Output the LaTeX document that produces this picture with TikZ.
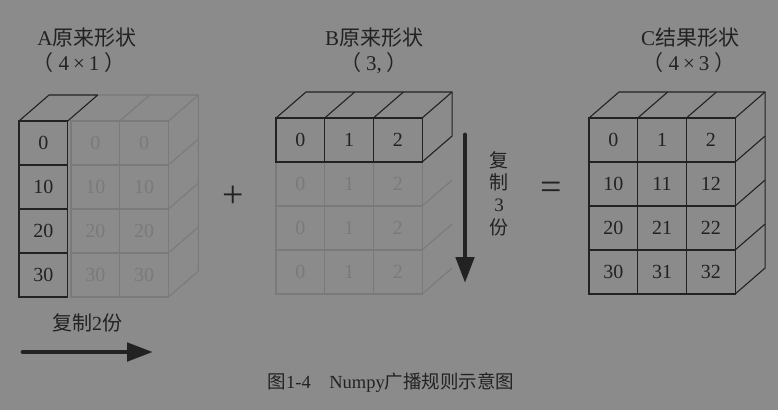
\documentclass[tikz,border=0pt]{standalone}
\usepackage{fontspec}
\setmainfont{Liberation Serif}
\newfontfamily\cjk{Noto Sans CJK SC}
\usetikzlibrary{arrows.meta}
\definecolor{bg}{HTML}{8B8B8B}
\definecolor{ink}{HTML}{222222}
\definecolor{faint}{HTML}{7A7A7A}
\newcommand{\cw}{48.7}
\newcommand{\ch}{44}
\tikzstyle{cell}=[draw=ink, line width=1.1pt, minimum width=\cw pt, minimum height=\ch pt,
                  inner sep=0, outer sep=0, text=ink, font=\fontsize{20}{20}\selectfont]
\tikzstyle{ghost}=[cell, draw=faint, text=faint]
\tikzstyle{edge}=[draw=ink, line width=1.1pt, line join=round]
\tikzstyle{ghostedge}=[edge, draw=faint]
\tikzstyle{title}=[text=ink, inner sep=0, font=\fontsize{21}{21}\selectfont]
\tikzstyle{bigarrow}=[draw=ink, line width=4.8pt, line cap=round, -{Triangle[length=26pt,width=18pt]}]

\begin{document}
\begin{tikzpicture}[x=1pt, y=-1pt]
    \useasboundingbox[fill=bg] (0,0) rectangle (778,410);
    % A (4x1), copied twice to the right
    \foreach \v [count=\r from 0] in {0,10,20,30} {
        \node[ghost] (ag\r1) at (95.35, 143+44*\r) {\v};
        \node[ghost] (ag\r2) at (144.05, 143+44*\r) {\v};
    }
    \foreach \v [count=\r from 0] in {0,10,20,30}
        \node[cell] (a\r) at (43.35, 143+44*\r) {\v};
    \draw[ghostedge] ([shift={(30,-26)}]a0.north east) -- ([shift={(30,-26)}]ag02.north east)
                     -- ([shift={(30,-26)}]ag32.south east) -- (ag32.south east);
    \draw[ghostedge] (ag02.north west) -- +(30,-26);
    \draw[ghostedge] (ag02.north east) -- +(30,-26);
    \foreach \r in {0,1,2}
        \draw[ghostedge] (ag\r2.south east) -- +(30,-26);
    \draw[edge] (a0.north west) -- ++(30,-26) -- ([shift={(30,-26)}]a0.north east) -- (a0.north east);
    \node[title] (ta) at (87,38) {A\cjk 原来形状};
    \node[title] (sa) at (79,63) {{\cjk （}\hspace{5pt}4\hspace{4pt}×\hspace{4pt}1\hspace{5pt}{\cjk ）}};
    \node[title, font=\fontsize{20}{20}\selectfont] (la) at (87,323) {{\cjk 复制}2{\cjk 份}};
    \coordinate (ra0) at (23,352);
    \coordinate (ra1) at (153,352);
    \draw[bigarrow] (ra0) -- (ra1);

    \node[text=ink, font=\fontsize{38}{38}\selectfont] (plus) at (233,197) {+};

    % B (3,), copied three times downwards
    \foreach \c in {0,1,2}
        \foreach \r in {1,2,3}
            \node[ghost] (b\r\c) at (300.35+48.7*\c, 140+44*\r) {\c};
    \foreach \c in {0,1,2}
        \node[cell] (b0\c) at (300.35+48.7*\c, 140) {\c};
    \foreach \r in {1,2,3}
        \draw[ghostedge] (b\r2.south east) -- +(30,-26);
    \draw[edge] (b00.north west) -- ++(30,-26) -- ([shift={(30,-26)}]b02.north east)
                -- ([shift={(30,-26)}]b02.south east) -- (b02.south east);
    \draw[edge] (b02.north east) -- +(30,-26);
    \foreach \c in {1,2}
        \draw[edge] (b0\c.north west) -- +(30,-26);
    \node[title] (tb) at (374,38) {B\cjk 原来形状};
    \node[title] (sb) at (374,63) {{\cjk （}\hspace{5pt}3,\hspace{5pt}{\cjk ）}};
    \coordinate (rb0) at (465,135);
    \coordinate (rb1) at (465,283);
    \draw[bigarrow] (rb0) -- (rb1);
    \node[title, align=center, font=\fontsize{19}{22.3}\selectfont] (lb) at (499,193.5)
        {{\cjk 复}\\{\cjk 制}\\3\\{\cjk 份}};

    \node[text=ink, font=\fontsize{38}{38}\selectfont] (eq) at (551,191) {=};

    % C (4x3), the result
    \foreach \r in {0,...,3}
        \foreach \c in {0,1,2} {
            \pgfmathtruncatemacro{\v}{10*\r+\c}
            \node[cell] (c\r\c) at (613.35+48.7*\c, 140+44*\r) {\v};
        }
    \draw[edge] (c00.north west) -- ++(30,-26) -- ([shift={(30,-26)}]c02.north east)
                -- ([shift={(30,-26)}]c32.south east) -- (c32.south east);
    \draw[edge] (c02.north east) -- +(30,-26);
    \foreach \c in {1,2}
        \draw[edge] (c0\c.north west) -- +(30,-26);
    \foreach \r in {0,1,2}
        \draw[edge] (c\r2.south east) -- +(30,-26);
    \node[title] (tc) at (690,38) {C\cjk 结果形状};
    \node[title] (sc) at (689,63) {{\cjk （}\hspace{5pt}4\hspace{4pt}×\hspace{4pt}3\hspace{5pt}{\cjk ）}};

    \node[text=ink, inner sep=0, font=\fontsize{18.5}{18.5}\selectfont] (cap) at (391,383)
        {{\cjk 图}1-4\quad Numpy{\cjk 广播规则示意图}};
\end{tikzpicture}
\end{document}
